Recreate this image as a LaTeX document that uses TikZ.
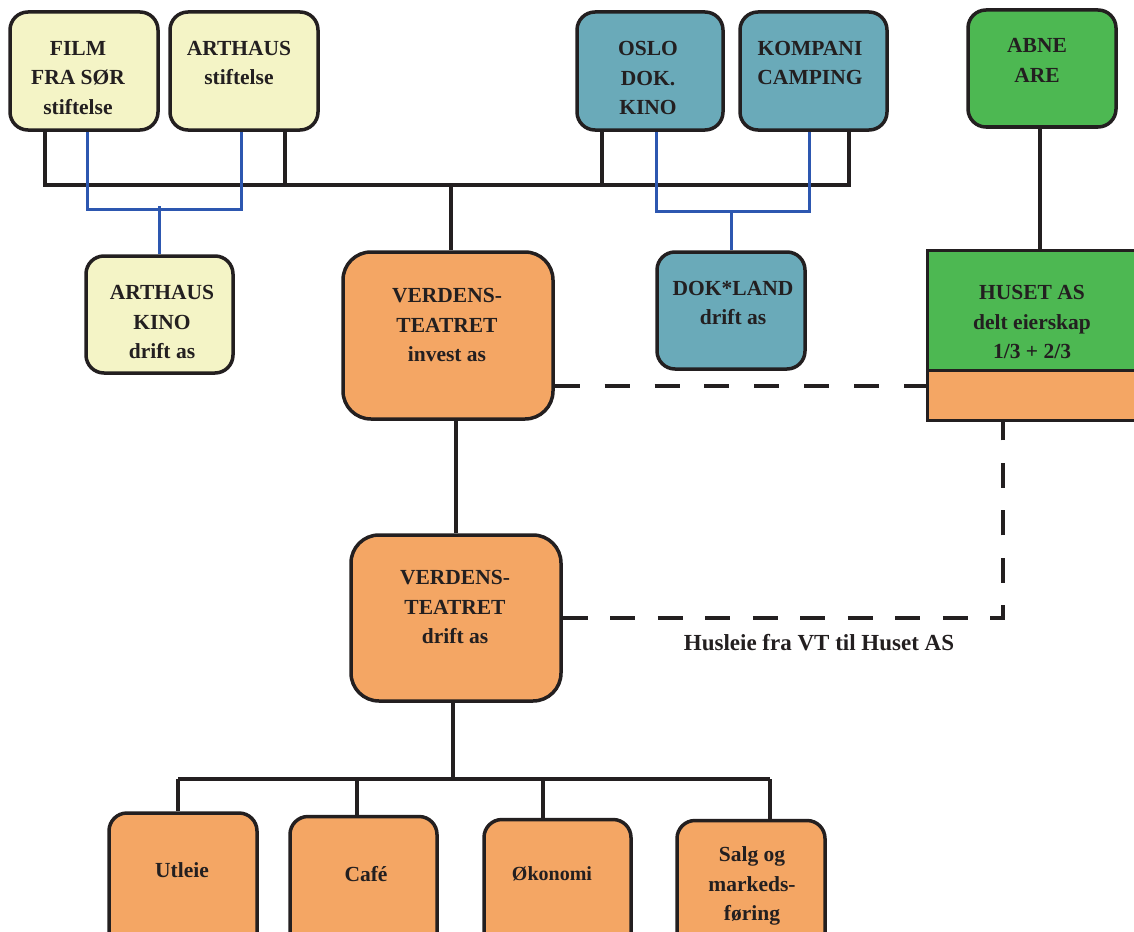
\documentclass[tikz,border=0pt]{standalone}
\usepackage{fontspec}
\setmainfont{Liberation Serif}
\definecolor{linec}{HTML}{231F20}
\definecolor{yel}{HTML}{F4F4C6}
\definecolor{teal}{HTML}{6AAAB9}
\definecolor{grn}{HTML}{4DB852}
\definecolor{org}{HTML}{F4A664}
\definecolor{bluel}{HTML}{2D57B0}
\begin{document}
\begin{tikzpicture}[x=1pt,y=-1pt,
  box/.style={draw=linec, line width=3.5pt, rounded corners=18pt, inner sep=0pt, minimum width=148pt, minimum height=118pt},
  bigbox/.style={box, rounded corners=28pt, minimum width=210pt, minimum height=166pt, fill=org},
  sqbox/.style={draw=linec, line width=3pt, inner sep=0pt, minimum width=218pt},
  txt/.style={font=\bfseries\fontsize{21.5}{29.5}\selectfont, align=center, inner sep=0pt, text=linec},
  conn/.style={draw=linec, line width=4pt},
  blueline/.style={draw=bluel, line width=3pt},
  dashline/.style={draw=linec, line width=4pt, dash pattern=on 25pt off 24.9pt},
  dashlineb/.style={draw=linec, line width=4pt, dash pattern=on 25pt off 22.5pt}]
\clip (0,0) rectangle (1134,931);
\fill[white] (0,0) rectangle (1134,931);

% boxes
\node[box, fill=yel] (film) at (84,71) {};
\node[box, fill=yel] (arthaus) at (244,71) {};
\node[box, fill=yel, minimum width=147pt, minimum height=117pt] (kino) at (159.5,314.5) {};
\node[box, fill=teal, minimum width=146pt] (oslo) at (650,71) {};
\node[box, fill=teal, minimum width=147pt] (kompani) at (813.5,71) {};
\node[box, fill=grn, minimum height=117pt] (abne) at (1042,68.5) {};
\node[box, fill=teal, minimum height=117pt] (dokland) at (731,310.5) {};
\node[bigbox, minimum height=167pt] (vtinv) at (448,335.5) {};
\node[bigbox] (vtdrift) at (456,618) {};
\node[sqbox, fill=grn, minimum height=120pt] (huset) at (1036,310) {};
\node[sqbox, fill=org, minimum height=50pt] (husetbot) at (1036,395) {};
\node[box, fill=org, minimum height=146pt] (utleie) at (183,886) {};
\node[box, fill=org, minimum width=147pt, minimum height=146pt] (cafe) at (363.5,889.5) {};
\node[box, fill=org, minimum width=147pt, minimum height=146pt] (okonomi) at (557.5,892.5) {};
\node[box, fill=org, minimum height=146pt] (salg) at (751,893.5) {};

% texts
\node[txt] (filmt) at (78,78) {FILM\\FRA SØR\\stiftelse};
\node[txt] (arthaust) at (239,63) {ARTHAUS\\stiftelse};
\node[txt] (kinot) at (162,322) {ARTHAUS\\KINO\\drift as};
\node[txt] (oslot) at (648,78) {OSLO\\DOK.\\KINO};
\node[txt] (kompanit) at (810,63) {KOMPANI\\CAMPING};
\node[txt] (abnet) at (1037,60.5) {ABNE\\ARE};
\node[txt] (doklandt) at (733,303) {DOK*LAND\\drift as};
\node[txt] (vtinvt) at (447,325) {VERDENS-\\TEATRET\\invest as};
\node[txt] (vtdriftt) at (455,607) {VERDENS-\\TEATRET\\drift as};
\node[txt] (husett) at (1032,322) {HUSET AS\\delt eierskap\\1/3 + 2/3};
\node[txt] (utleiet) at (182,870) {Utleie};
\node[txt] (cafet) at (366,874) {Café};
\node[txt, font=\bfseries\fontsize{20}{26}\selectfont] (okonomit) at (552,874) {Økonomi};
\node[txt] (salgt) at (752,886) {Salg og\\markeds-\\føring};
\node[txt, font=\bfseries\fontsize{23}{28}\selectfont] (husleie) at (819,643) {Husleie fra VT til Huset AS};

% top bus
\coordinate (busL) at (45,185);
\coordinate (busR) at (849,185);
\coordinate (busC) at (451,185);
\draw[conn] (busL) -- (busR);
\draw[conn] ([xshift=37pt]film.south west) -- ++(0,55);
\draw[conn] ([xshift=-35pt]arthaus.south east) -- ++(0,55);
\draw[conn] ([xshift=27pt]oslo.south west) -- ++(0,55);
\draw[conn] ([xshift=-40pt]kompani.south east) -- ++(0,55);
\draw[conn] (busC) -- (busC |- vtinv.north);

% blue links
\draw[blueline] ([xshift=79pt]film.south west) -- ++(0,78) -| ([xshift=73pt]arthaus.south west);
\draw[blueline] (kino.north) -- ++(0,-48.5);
\draw[blueline] ([xshift=81pt]oslo.south west) -- ++(0,80) -| ([xshift=71pt]kompani.south west);
\draw[blueline] (dokland.north) -- ++(0,-40.5);

% right
\draw[conn] ([xshift=-2pt]abne.south) -- ([xshift=-2pt]abne.south |- huset.north);

% vertical chain
\draw[conn] (vtdrift.north |- vtinv.south) -- (vtdrift.north);
\draw[conn] ([xshift=-3pt]vtdrift.south) -- ++(0,78);

% dashed
\path ([yshift=-50.5pt]vtinv.east) coordinate (d1);
\draw[dashline] (d1) -- (d1 -| huset.west);
\path ([xshift=77pt]husetbot.south west) coordinate (d2);
\draw[dashlineb] (vtdrift.east) -| (d2);

% bottom bus
\coordinate (bbL) at (178,779);
\coordinate (bbR) at (770,779);
\draw[conn] (bbL) -- (bbR);
\draw[conn] (bbL) -- (bbL |- utleie.north);
\draw[conn] ([xshift=-6.5pt]cafe.north) -- ([xshift=-6.5pt]cafe.north |- bbL);
\draw[conn] ([xshift=-14.5pt]okonomi.north) -- ([xshift=-14.5pt]okonomi.north |- bbL);
\draw[conn] (bbR) -- (bbR |- salg.north);
\end{tikzpicture}
\end{document}
